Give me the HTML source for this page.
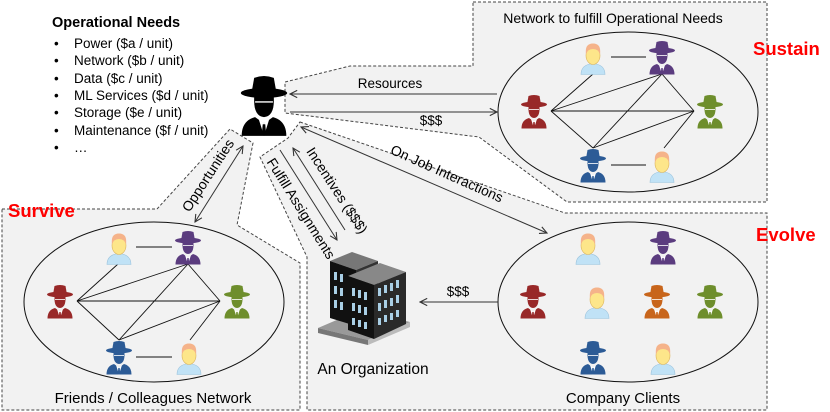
<!DOCTYPE html>
<html><head><meta charset="utf-8"><style>
html,body{margin:0;padding:0;background:#fff;}
svg{display:block;font-family:"Liberation Sans",sans-serif;}
</style></head><body>
<svg width="830" height="412" viewBox="0 0 830 412" xmlns="http://www.w3.org/2000/svg">
<defs>
<symbol id="spy" viewBox="0 0 28 34">
<path d="M7 10 L8.5 1.5 Q14 -0.5 19.5 1.5 L21 10 Z" fill="currentColor"/>
<ellipse cx="14" cy="10" rx="13" ry="2.8" fill="currentColor"/>
<path d="M8.5 12.5 Q8 23 14 23.5 Q20 23 19.5 12.5 Z" fill="currentColor"/>
<path d="M9 15 L19 15" stroke="#fff" stroke-width="0.8"/>
<path d="M1.5 34 Q1.5 25.5 9 23.5 L14 27 L19 23.5 Q26.5 25.5 26.5 34 Z" fill="currentColor"/>
<path d="M11 24.5 L14 34 L17 24.5 L14 27 Z" fill="#fff"/>
<path d="M13.3 27.5 L14.7 27.5 L15.2 33 L14 34 L12.8 33 Z" fill="currentColor"/>
</symbol>
<symbol id="person" viewBox="0 0 28 34">
<path d="M2 34 Q2 24 14 23 Q26 24 26 34 Z" fill="#c0e2f6" stroke="#9cc3dc" stroke-width="0.6"/>
<ellipse cx="14" cy="15" rx="7" ry="9" fill="#fde68a" stroke="#dcb45c" stroke-width="0.6"/>
<path d="M7 14 Q5.5 3 14 3 Q22.5 3 21 14 Q19.5 8.5 14 8.5 Q8.5 8.5 7 14 Z" fill="#f5b38a"/>
</symbol>
<marker id="ah" viewBox="0 0 10 10" refX="9" refY="5" markerWidth="9" markerHeight="9" orient="auto-start-reverse" markerUnits="userSpaceOnUse">
<path d="M1 1 L9 5 L1 9" fill="none" stroke="#333" stroke-width="1.2"/>
</marker>
</defs>

<g fill="#f2f2f2" stroke="#444" stroke-width="1" stroke-dasharray="3,2">
<polygon points="473,2 767,2 767,202 567,202 479,137 285,113 285,82 350,66 473,66"/>
<polygon points="300,122 565,213 767,213 767,410 307,410 307,257 260,157 288,138"/>
<polygon points="2,209 157,209 230,129 253,143 237,225 300,263 300,410 2,410"/>
</g>

<g fill="none" stroke="#111" stroke-width="1">
<ellipse cx="628" cy="112" rx="130" ry="80"/>
<ellipse cx="628" cy="302" rx="130" ry="80"/>
<ellipse cx="154" cy="302" rx="130" ry="80"/>
</g>

<g stroke="#111" stroke-width="0.9">
<line x1="551" y1="111" x2="694" y2="111"/>
<line x1="551" y1="111" x2="662" y2="74"/>
<line x1="551" y1="111" x2="593" y2="148"/>
<line x1="662" y1="74" x2="694" y2="111"/>
<line x1="662" y1="74" x2="593" y2="148"/>
<line x1="694" y1="111" x2="593" y2="148"/>
<line x1="593" y1="74" x2="551" y2="111"/>
<line x1="664" y1="148" x2="694" y2="111"/>
<line x1="611" y1="57" x2="646" y2="57"/>
<line x1="611" y1="165" x2="646" y2="165"/>
<line x1="77" y1="301" x2="220" y2="301"/>
<line x1="77" y1="301" x2="188" y2="264"/>
<line x1="77" y1="301" x2="119" y2="340"/>
<line x1="188" y1="264" x2="220" y2="301"/>
<line x1="188" y1="264" x2="119" y2="340"/>
<line x1="220" y1="301" x2="119" y2="340"/>
<line x1="118" y1="264" x2="77" y2="301"/>
<line x1="190" y1="340" x2="220" y2="301"/>
<line x1="136" y1="247" x2="172" y2="247"/>
<line x1="136" y1="357" x2="172" y2="357"/>
</g>

<use href="#person" x="579" y="40" width="28" height="35"/>
<use href="#spy" x="648" y="40" width="28" height="35" color="#5b3c7f"/>
<use href="#spy" x="520" y="94" width="28" height="35" color="#982828"/>
<use href="#spy" x="696" y="94" width="28" height="35" color="#6e8e2c"/>
<use href="#spy" x="579" y="148" width="28" height="35" color="#2c5b96"/>
<use href="#person" x="648" y="148" width="28" height="35"/>
<use href="#person" x="105" y="230" width="28" height="35"/>
<use href="#spy" x="174" y="230" width="28" height="35" color="#5b3c7f"/>
<use href="#spy" x="46" y="284" width="28" height="35" color="#982828"/>
<use href="#spy" x="223" y="284" width="28" height="35" color="#6e8e2c"/>
<use href="#spy" x="105" y="340" width="28" height="35" color="#2c5b96"/>
<use href="#person" x="175" y="340" width="28" height="35"/>
<use href="#person" x="574" y="230" width="28" height="35"/>
<use href="#spy" x="649" y="230" width="28" height="35" color="#5b3c7f"/>
<use href="#spy" x="519" y="284" width="28" height="35" color="#982828"/>
<use href="#person" x="583" y="284" width="28" height="35"/>
<use href="#spy" x="643" y="284" width="28" height="35" color="#c8651b"/>
<use href="#spy" x="696" y="284" width="28" height="35" color="#6e8e2c"/>
<use href="#spy" x="579" y="340" width="28" height="35" color="#2c5b96"/>
<use href="#person" x="649" y="340" width="28" height="35"/>

<use href="#spy" x="239" y="73" width="50" height="65" color="#000"/>

<g>
<polygon points="318,328 360,310 410,322 368,340" fill="#999"/>
<polygon points="318,328 368,340 368,345 318,333" fill="#777"/>
<polygon points="368,340 410,322 410,327 368,345" fill="#bbb"/>
<polygon points="330,261 352,252 378,261 356,270" fill="#777"/>
<polygon points="330,261 356,270 356,326 330,318" fill="#111"/>
<polygon points="356,270 378,261 378,316 356,326" fill="#333"/>
<polygon points="348,276 380,263 406,272 374,285" fill="#888"/>
<polygon points="348,276 374,285 374,339 348,330" fill="#111"/>
<polygon points="374,285 406,272 406,324 374,339" fill="#2a2a2a"/>
<g fill="#a9cfe6">
<rect x="334" y="272" width="3" height="8"/><rect x="340" y="274" width="3" height="8"/>
<rect x="334" y="286" width="3" height="8"/><rect x="340" y="288" width="3" height="8"/>
<rect x="334" y="300" width="3" height="8"/><rect x="340" y="302" width="3" height="8"/>
<rect x="352" y="288" width="3" height="8"/><rect x="358" y="290" width="3" height="8"/><rect x="364" y="292" width="3" height="8"/>
<rect x="352" y="303" width="3" height="8"/><rect x="358" y="305" width="3" height="8"/><rect x="364" y="307" width="3" height="8"/>
<rect x="352" y="318" width="3" height="7"/><rect x="358" y="320" width="3" height="7"/><rect x="364" y="322" width="3" height="7"/>
<rect x="378" y="288" width="3" height="8"/><rect x="384" y="285" width="3" height="8"/><rect x="390" y="283" width="3" height="8"/><rect x="396" y="280" width="3" height="8"/>
<rect x="378" y="303" width="3" height="8"/><rect x="384" y="300" width="3" height="8"/><rect x="390" y="298" width="3" height="8"/><rect x="396" y="295" width="3" height="8"/>
<rect x="378" y="318" width="3" height="7"/><rect x="384" y="315" width="3" height="7"/><rect x="390" y="313" width="3" height="7"/><rect x="396" y="310" width="3" height="7"/>
</g>
</g>

<g stroke="#333" stroke-width="1" fill="none">
<line x1="290" y1="94" x2="497" y2="94" marker-start="url(#ah)"/>
<line x1="290" y1="112" x2="497" y2="112" marker-end="url(#ah)"/>
<line x1="301" y1="127" x2="547" y2="233" marker-start="url(#ah)" marker-end="url(#ah)"/>
<line x1="243" y1="146" x2="195" y2="222" marker-start="url(#ah)" marker-end="url(#ah)"/>
<line x1="280" y1="150" x2="337" y2="240" marker-end="url(#ah)"/>
<line x1="345" y1="230" x2="293" y2="148" marker-end="url(#ah)"/>
<line x1="498" y1="302" x2="420" y2="302" marker-end="url(#ah)"/>
</g>

<g fill="#000" font-size="13.5">
<text x="52" y="27" font-size="14.5" font-weight="bold">Operational Needs</text>
<text x="54" y="48">•</text><text x="74" y="48">Power ($a / unit)</text>
<text x="54" y="65">•</text><text x="74" y="65">Network ($b / unit)</text>
<text x="54" y="83">•</text><text x="74" y="83">Data ($c / unit)</text>
<text x="54" y="100">•</text><text x="74" y="100">ML Services ($d / unit)</text>
<text x="54" y="117">•</text><text x="74" y="117">Storage ($e / unit)</text>
<text x="54" y="135">•</text><text x="74" y="135">Maintenance ($f / unit)</text>
<text x="54" y="152">•</text><text x="74" y="152">…</text>
<text x="613" y="23" font-size="14" text-anchor="middle">Network to fulfill Operational Needs</text>
<text x="390" y="88" text-anchor="middle">Resources</text>
<text x="431" y="125" text-anchor="middle">$$$</text>
<text x="458" y="296" text-anchor="middle">$$$</text>
<text transform="translate(445,178) rotate(24)" text-anchor="middle" font-size="14">On Job Interactions</text>
<text transform="translate(212,178) rotate(-57)" text-anchor="middle" font-size="14">Opportunities</text>
<text transform="translate(297,211) rotate(58)" text-anchor="middle" font-size="14">Fulfill Assignments</text>
<text transform="translate(333,193) rotate(57)" text-anchor="middle" font-size="14">Incentives ($$$)</text>
<text x="373" y="374" font-size="15.5" text-anchor="middle">An Organization</text>
<text x="153" y="403" font-size="15" text-anchor="middle">Friends / Colleagues Network</text>
<text x="623" y="403" font-size="15" text-anchor="middle">Company Clients</text>
</g>
<g fill="#ff0000" font-weight="bold" font-size="18.5">
<text x="753" y="55">Sustain</text>
<text x="756" y="241">Evolve</text>
<text x="8" y="217">Survive</text>
</g>
</svg>
</body></html>
